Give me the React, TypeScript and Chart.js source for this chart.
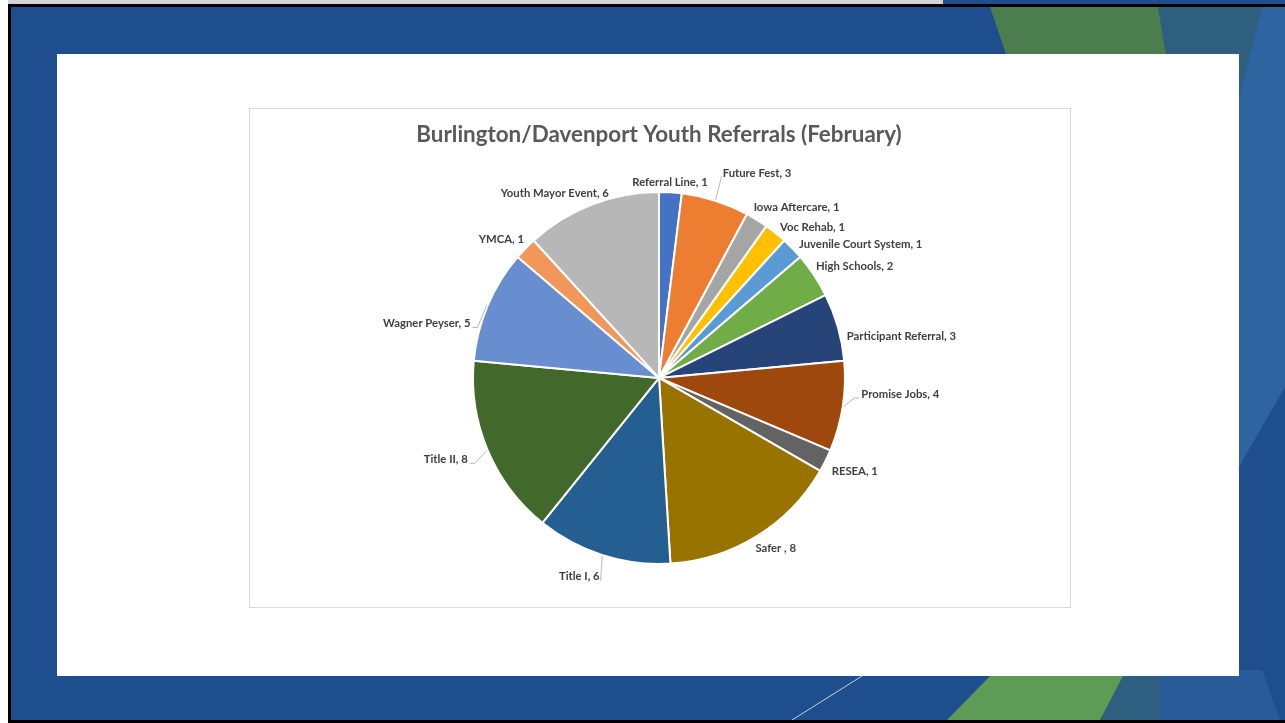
import React, { useEffect, useRef } from "react";
import { Chart, registerables } from "chart.js";

Chart.register(...registerables);

const chartTitle = "Burlington/Davenport Youth Referrals (February)";
const categories = [
  "Referral Line",
  "Future Fest",
  "Iowa Aftercare",
  "Voc Rehab",
  "Juvenile Court System",
  "High Schools",
  "Participant Referral",
  "Promise Jobs",
  "RESEA",
  "Safer ",
  "Title I",
  "Title II",
  "Wagner Peyser",
  "YMCA",
  "Youth Mayor Event",
];
const referrals = [1, 3, 1, 1, 1, 2, 3, 4, 1, 8, 6, 8, 5, 1, 6];
const sliceColors = [
  "#4472C4",
  "#ED7D31",
  "#A5A5A5",
  "#FFC000",
  "#5B9BD5",
  "#70AD47",
  "#264478",
  "#9E480E",
  "#636363",
  "#997300",
  "#255E91",
  "#43682B",
  "#698ED0",
  "#F1975A",
  "#B7B7B7",
];
// label nudges (px) from the automatic outside-end position
const labelNudges = [
  [-3, 0], [30, -18], [15, -4], [14, 2], [21, 3], [5, -3], [7, 12], [15, -14],
  [5, 6], [6, 4], [-16, 12], [-18, 5], [-17, 22], [-5, -2], [-16, -2],
];
const leaderLines = [false, true, false, false, false, false, false, true, false, false, true, true, true, false, false];

const LABEL_FONT = "bold 11.3px Lato";
const LABEL_COLOR = "#404040";

const outsideLabels = {
  id: "outsideLabels",
  afterDatasetsDraw(chart: any) {
    const ctx = chart.ctx;
    const meta = chart.getDatasetMeta(0);
    ctx.save();
    ctx.font = LABEL_FONT;
    ctx.textAlign = "center";
    ctx.textBaseline = "middle";
    meta.data.forEach((el: any, i: number) => {
      const p = el.getProps(["x", "y", "startAngle", "endAngle", "outerRadius"], true);
      const mid = (p.startAngle + p.endAngle) / 2;
      const c = Math.cos(mid);
      const s = Math.sin(mid);
      const text = `${categories[i]}, ${referrals[i]}`;
      const w = ctx.measureText(text).width;
      const h = 12;
      const ax = p.x + c * (p.outerRadius + 4);
      const ay = p.y + s * (p.outerRadius + 4);
      const cx = ax + (c * w) / 2 + labelNudges[i][0];
      const cy = ay + (s * h) / 2 + labelNudges[i][1];
      if (leaderLines[i]) {
        const ex = p.x + c * (p.outerRadius + 1);
        const ey = p.y + s * (p.outerRadius + 1);
        ctx.strokeStyle = "#A6A6A6";
        ctx.lineWidth = 0.8;
        ctx.beginPath();
        if (Math.abs(c) > 0.5) {
          const dir = c > 0 ? -1 : 1;
          const tx = cx + dir * (w / 2 + 2);
          const ty = cy + 4;
          ctx.moveTo(tx, ty);
          ctx.lineTo(tx + dir * 5, ty);
          ctx.lineTo(ex, ey);
        } else {
          const tx = cx + (c > 0 ? -w / 2 - 1 : w / 2 + 1);
          const ty = s > 0 ? cy + 4 : cy + 3;
          ctx.moveTo(tx, ty);
          ctx.lineTo(ex, ey);
        }
        ctx.stroke();
      }
      ctx.fillStyle = LABEL_COLOR;
      ctx.fillText(text, cx, cy);
    });
    ctx.restore();
  },
};

function PieChart() {
  const ref = useRef<HTMLCanvasElement | null>(null);
  useEffect(() => {
    if (!ref.current) return;
    const chart = new Chart(ref.current, {
      type: "pie",
      data: {
        labels: categories,
        datasets: [
          {
            data: referrals,
            backgroundColor: sliceColors,
            borderColor: "#FFFFFF",
            borderWidth: 2,
          },
        ],
      },
      options: {
        animation: false,
        responsive: false,
        maintainAspectRatio: false,
        radius: 186,
        layout: { padding: { left: 0, right: 2, top: 0, bottom: 43 } },
        plugins: {
          legend: { display: false },
          tooltip: { enabled: false },
          title: {
            display: true,
            text: chartTitle,
            color: "#595959",
            font: { family: "Lato", size: 22.4, weight: "bold", lineHeight: 1.2 },
            padding: { top: 12, bottom: 44 },
          },
        },
      } as any,
      plugins: [outsideLabels],
    });
    return () => chart.destroy();
  }, []);
  return (
    <canvas
      ref={ref}
      width={820}
      height={498}
      style={{ position: "absolute", left: 250, top: 109, width: 820, height: 498 }}
    />
  );
}

export default function App() {
  return (
    <div
      style={{
        position: "fixed",
        left: 0,
        top: 0,
        width: 1285,
        height: 723,
        background: "#FFFFFF",
        overflow: "hidden",
      }}
    >
      <svg
        width={1285}
        height={723}
        style={{ position: "absolute", left: 0, top: 0 }}
      >
        <rect x={8} y={0} width={1277} height={723} fill="#1F4E8E" />
        <polygon points="990,7 1158,7 1170,60 1008,60" fill="#4B7D4E" />
        <polygon points="1158,7 1262,7 1236,110 1175,110" fill="#2F5F7E" />
        <polygon points="1262,7 1285,7 1285,387 1236,472 1236,110" fill="#2E64A0" />
        <polygon points="1100,720 1160,720 1160,670 1126,670" fill="#2E5F80" />
        <polygon points="1160,720 1280,720 1262,670 1160,670" fill="#295B98" />
        <polygon points="947,720 1100,720 1123,676 990,676" fill="#5E9B56" />
        <line x1={792} y1={720} x2={862} y2={676} stroke="#C8D0DC" strokeWidth={1} />
        <rect x={8} y={0} width={935} height={4} fill="#D4D4D4" />
        <rect x={8} y={4} width={1277} height={3} fill="#000000" />
        <rect x={8} y={4} width={3} height={719} fill="#000000" />
        <rect x={8} y={720} width={1277} height={3} fill="#000000" />
        <rect x={57} y={54} width={1182} height={622} fill="#FFFFFF" />
        <rect x={249.5} y={108.5} width={821} height={499} fill="#FFFFFF" stroke="#D9D9D9" strokeWidth={1} />
      </svg>
      <PieChart />
    </div>
  );
}
